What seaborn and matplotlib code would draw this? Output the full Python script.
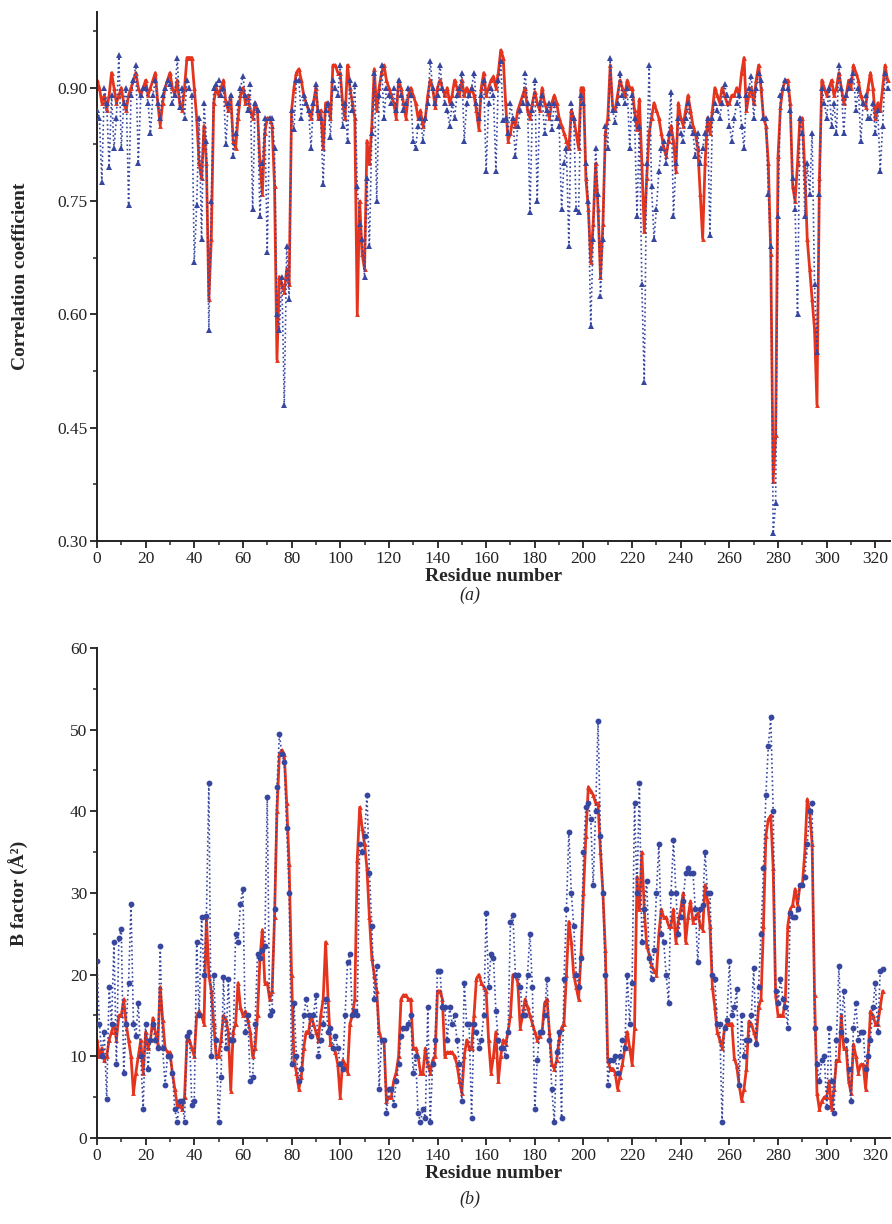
import numpy as np
import pandas as pd
import matplotlib
matplotlib.use("Agg")
import matplotlib.pyplot as plt
from matplotlib.ticker import MultipleLocator, FormatStrFormatter
import seaborn as sns

# (a) correlation coefficient per residue, residues 0..325
corr_red = [
    0.91, 0.90, 0.88, 0.89, 0.87, 0.89, 0.92, 0.90, 0.88, 0.89,
    0.90, 0.88, 0.87, 0.89, 0.90, 0.91, 0.92, 0.90, 0.89, 0.90,
    0.91, 0.89, 0.90, 0.91, 0.92, 0.88, 0.85, 0.88, 0.90, 0.91,
    0.92, 0.90, 0.89, 0.91, 0.88, 0.87, 0.90, 0.94, 0.94, 0.94,
    0.90, 0.86, 0.80, 0.78, 0.85, 0.80, 0.62, 0.70, 0.88, 0.90,
    0.89, 0.90, 0.91, 0.88, 0.87, 0.89, 0.83, 0.82, 0.86, 0.89,
    0.90, 0.88, 0.89, 0.87, 0.86, 0.88, 0.87, 0.80, 0.76, 0.84,
    0.86, 0.86, 0.85, 0.77, 0.54, 0.65, 0.64, 0.63, 0.66, 0.64,
    0.87, 0.90, 0.92, 0.925, 0.91, 0.89, 0.88, 0.87, 0.86, 0.88,
    0.90, 0.86, 0.87, 0.82, 0.88, 0.88, 0.86, 0.93, 0.93, 0.92,
    0.92, 0.88, 0.86, 0.93, 0.90, 0.88, 0.86, 0.60, 0.75, 0.68,
    0.66, 0.83, 0.80, 0.85, 0.925, 0.87, 0.90, 0.92, 0.93, 0.91,
    0.90, 0.89, 0.88, 0.86, 0.91, 0.90, 0.88, 0.86, 0.89, 0.90,
    0.89, 0.88, 0.86, 0.87, 0.85, 0.86, 0.89, 0.91, 0.90, 0.875,
    0.90, 0.91, 0.90, 0.89, 0.90, 0.88, 0.89, 0.91, 0.90, 0.89,
    0.91, 0.89, 0.90, 0.89, 0.90, 0.89, 0.87, 0.845, 0.90, 0.92,
    0.89, 0.90, 0.91, 0.915, 0.90, 0.92, 0.95, 0.94, 0.88, 0.83,
    0.84, 0.86, 0.85, 0.87, 0.88, 0.89, 0.90, 0.87, 0.86, 0.88,
    0.895, 0.88, 0.87, 0.90, 0.88, 0.87, 0.86, 0.88, 0.89, 0.88,
    0.86, 0.85, 0.84, 0.83, 0.82, 0.87, 0.86, 0.84, 0.82, 0.90,
    0.90, 0.78, 0.74, 0.67, 0.72, 0.80, 0.74, 0.65, 0.72, 0.84,
    0.86, 0.93, 0.875, 0.87, 0.89, 0.91, 0.90, 0.89, 0.91, 0.90,
    0.90, 0.87, 0.845, 0.885, 0.80, 0.71, 0.78, 0.84, 0.86, 0.88,
    0.87, 0.86, 0.84, 0.82, 0.81, 0.83, 0.85, 0.83, 0.79, 0.88,
    0.86, 0.85, 0.87, 0.89, 0.87, 0.85, 0.84, 0.82, 0.76, 0.70,
    0.80, 0.86, 0.84, 0.87, 0.90, 0.89, 0.88, 0.90, 0.89, 0.88,
    0.88, 0.89, 0.89, 0.90, 0.89, 0.92, 0.94, 0.87, 0.89, 0.90,
    0.88, 0.91, 0.93, 0.90, 0.86, 0.85, 0.80, 0.68, 0.38, 0.44,
    0.81, 0.875, 0.90, 0.91, 0.91, 0.88, 0.77, 0.75, 0.80, 0.86,
    0.86, 0.79, 0.70, 0.66, 0.62, 0.58, 0.48, 0.78, 0.91, 0.90,
    0.89, 0.90, 0.91, 0.89, 0.90, 0.92, 0.90, 0.88, 0.89, 0.91,
    0.90, 0.93, 0.92, 0.91, 0.89, 0.88, 0.875, 0.90, 0.92, 0.90,
    0.86, 0.88, 0.87, 0.90, 0.93, 0.91,
]
corr_blue = [
    0.87, 0.86, 0.775, 0.90, 0.88, 0.795, 0.89, 0.82, 0.86, 0.944,
    0.82, 0.88, 0.90, 0.745, 0.89, 0.91, 0.93, 0.80, 0.89, 0.90,
    0.90, 0.88, 0.84, 0.89, 0.91, 0.88, 0.86, 0.89, 0.90, 0.91,
    0.905, 0.88, 0.89, 0.94, 0.875, 0.90, 0.86, 0.91, 0.90, 0.89,
    0.67, 0.745, 0.86, 0.70, 0.88, 0.83, 0.58, 0.75, 0.90, 0.905,
    0.91, 0.89, 0.90, 0.825, 0.88, 0.89, 0.81, 0.84, 0.88, 0.90,
    0.915, 0.89, 0.87, 0.905, 0.74, 0.88, 0.87, 0.73, 0.80, 0.86,
    0.683, 0.86, 0.86, 0.82, 0.60, 0.58, 0.65, 0.48, 0.69, 0.62,
    0.87, 0.845, 0.91, 0.91, 0.86, 0.89, 0.88, 0.87, 0.82, 0.88,
    0.905, 0.87, 0.86, 0.773, 0.87, 0.88, 0.835, 0.91, 0.90, 0.89,
    0.93, 0.85, 0.88, 0.83, 0.91, 0.87, 0.905, 0.77, 0.72, 0.70,
    0.65, 0.78, 0.69, 0.84, 0.92, 0.75, 0.89, 0.93, 0.86, 0.90,
    0.89, 0.88, 0.90, 0.87, 0.91, 0.89, 0.87, 0.88, 0.90, 0.89,
    0.83, 0.82, 0.85, 0.86, 0.83, 0.86, 0.88, 0.935, 0.90, 0.88,
    0.89, 0.93, 0.90, 0.88, 0.87, 0.85, 0.88, 0.86, 0.89, 0.90,
    0.92, 0.83, 0.88, 0.89, 0.90, 0.92, 0.88, 0.86, 0.89, 0.91,
    0.79, 0.88, 0.90, 0.89, 0.79, 0.91, 0.935, 0.857, 0.86, 0.84,
    0.88, 0.86, 0.81, 0.85, 0.87, 0.88, 0.92, 0.88, 0.735, 0.87,
    0.91, 0.75, 0.88, 0.89, 0.84, 0.87, 0.88, 0.845, 0.88, 0.86,
    0.85, 0.74, 0.80, 0.82, 0.69, 0.88, 0.86, 0.74, 0.735, 0.89,
    0.88, 0.80, 0.75, 0.585, 0.70, 0.82, 0.76, 0.625, 0.70, 0.85,
    0.82, 0.94, 0.87, 0.855, 0.88, 0.92, 0.89, 0.88, 0.90, 0.82,
    0.89, 0.86, 0.73, 0.85, 0.64, 0.51, 0.80, 0.93, 0.77, 0.70,
    0.74, 0.79, 0.82, 0.83, 0.80, 0.84, 0.895, 0.73, 0.80, 0.86,
    0.84, 0.83, 0.86, 0.88, 0.85, 0.84, 0.81, 0.84, 0.80, 0.82,
    0.84, 0.86, 0.705, 0.86, 0.88, 0.87, 0.86, 0.88, 0.905, 0.89,
    0.85, 0.83, 0.86, 0.88, 0.89, 0.85, 0.82, 0.89, 0.90, 0.915,
    0.86, 0.90, 0.92, 0.91, 0.86, 0.86, 0.76, 0.69, 0.31, 0.35,
    0.73, 0.89, 0.90, 0.91, 0.90, 0.87, 0.78, 0.74, 0.60, 0.86,
    0.84, 0.73, 0.80, 0.76, 0.84, 0.64, 0.55, 0.76, 0.90, 0.88,
    0.86, 0.90, 0.85, 0.88, 0.84, 0.93, 0.90, 0.84, 0.89, 0.90,
    0.91, 0.92, 0.87, 0.90, 0.83, 0.88, 0.89, 0.86, 0.86, 0.88,
    0.84, 0.87, 0.79, 0.85, 0.92, 0.90,
]

# (b) B factor per residue, residues 0..323
bf_red = [
    12, 10, 11, 9.5, 10, 12, 13, 14, 12, 15,
    15, 17, 14, 12, 10, 5.5, 8, 10, 12, 8,
    13, 11, 12, 14.7, 13, 11.5, 18.5, 14.5, 11, 10.5,
    10.5, 8, 6, 4, 4, 3.5, 5, 12, 12, 11,
    10, 15, 15.5, 15, 14, 27, 20, 18, 14, 10,
    10, 12, 15, 14.5, 13, 5.8, 13, 14, 19, 16,
    15, 15.5, 14.5, 13, 10, 11, 15, 22, 25.5, 19,
    19, 17, 18, 27, 40, 47, 47.5, 47, 41, 33.5,
    20, 9.5, 8, 6, 7.5, 11, 13, 13, 15, 14,
    13, 12, 15, 17, 24, 17, 11.5, 11, 10.5, 9,
    5, 9.5, 9, 8, 14, 15, 17, 34, 40.5, 38,
    36, 33, 27, 22, 20, 18, 13, 12, 12, 4.5,
    5, 5, 7, 8, 10, 17, 17.5, 17.5, 17, 17,
    11, 11, 10, 8, 8, 11, 9, 8, 9.5, 10,
    18, 18, 17, 10, 10.5, 10.5, 10.5, 10, 9, 7,
    5.5, 10, 12, 11, 11, 15, 19.5, 20, 19, 18.5,
    18, 12, 8, 10, 13, 7, 10, 12, 11.5, 13,
    15, 20, 20, 19, 13.5, 15, 17, 16, 15, 14,
    13, 12, 12.5, 13, 16.5, 17, 13, 9, 8.5, 9.5,
    12, 13.5, 14, 20, 26.5, 24, 20, 18.5, 17, 22.5,
    30, 37, 43, 42.5, 42, 41, 41, 35, 30, 23,
    9.5, 8.5, 8.5, 8, 6, 7.5, 9, 11, 13, 11,
    9, 13.5, 32, 28, 35, 28, 23.5, 22.5, 21, 20.5,
    20, 25, 28, 27, 27, 26, 26, 28, 24, 26.5,
    28, 30, 24, 27, 29, 26.5, 27, 27.5, 26, 25.5,
    31, 29, 26, 18.5, 16, 13, 12, 11, 13.5, 14,
    14, 14, 9.8, 8.8, 6.5, 4.6, 6, 8.5, 14.3, 14,
    13, 12, 16, 17, 26, 37, 39, 39.5, 33, 17.5,
    15, 15, 15, 17, 26, 28, 28.5, 30.5, 28.5, 31,
    31, 35, 41.5, 40, 36, 17.5, 5.5, 3.5, 4.5, 5,
    5, 7, 3.5, 6, 9.5, 9.5, 15, 11, 11, 7,
    5.5, 11.5, 10, 8, 9, 9, 6, 10, 15.5, 15,
    14, 14, 16, 18,
]
bf_blue = [
    21.7, 14, 10, 13, 4.8, 18.5, 14, 24, 9, 24.5,
    25.6, 8, 14, 19, 28.6, 14, 12.5, 16.5, 10, 3.5,
    14, 8.5, 12, 14, 12, 11, 23.5, 11, 6.5, 10,
    10, 8, 3.5, 2, 4.5, 4.5, 2, 12.5, 13, 4,
    4.5, 24, 15, 27, 20, 27.2, 43.5, 10, 20, 12,
    2, 7.5, 19.7, 11, 19.5, 12, 12, 25, 24, 28.7,
    30.5, 13, 15, 7, 7.5, 14, 22.5, 22, 23, 23.5,
    41.8, 15, 15.5, 28, 43, 49.5, 47, 46, 38, 30,
    9, 16.5, 10, 7, 8.5, 15, 17, 15, 12.5, 15,
    17.5, 10, 12, 14, 17, 13, 13.5, 11, 12.5, 11,
    9, 8.5, 15, 21.5, 22.5, 15, 15.5, 15, 36, 35,
    37, 42, 32.5, 26, 17, 21, 6, 12, 12, 3,
    6, 6, 4, 7, 9, 12.5, 13.5, 13.5, 14, 15,
    8, 10, 3, 2, 3.5, 2.5, 16, 2, 9, 12,
    20.5, 20.5, 16, 16, 12, 16, 14, 15, 12, 9,
    4.5, 19, 14, 14, 2.5, 14, 13, 11, 12, 15,
    27.5, 18.5, 22.5, 22, 15.5, 12, 11, 11, 10, 13,
    26.5, 27.3, 20, 20, 18.5, 15, 15, 20, 25, 18.5,
    3.5, 9.5, 13, 13, 15, 19.5, 12, 6, 2, 10.5,
    13, 2.5, 19.5, 28, 37.5, 30, 26, 20, 18.5, 22,
    35, 40.5, 41, 39, 31, 40, 51, 37, 30, 20,
    6.5, 9.5, 9.5, 10, 8, 10, 12, 11, 20, 14,
    19, 41, 30, 43.5, 24, 28, 31.5, 22, 19.5, 23,
    30, 36, 25, 24, 20, 16.5, 30, 36.5, 30, 25,
    27, 29, 32.5, 33, 32.5, 32.5, 28, 21.5, 28, 28.5,
    35, 30, 30, 20, 19.5, 14, 14, 2, 13.5, 14.5,
    21.7, 15, 16, 18.2, 6.5, 15, 10, 12, 12, 15,
    20.8, 11.5, 18.5, 25, 33, 42, 48, 51.5, 40, 18,
    16.5, 19.5, 17, 16, 13.5, 27.5, 27, 27, 28, 31,
    31, 32, 36, 40, 41, 13.5, 9, 7, 9.5, 10,
    3.8, 13.5, 7, 3, 12, 21, 13, 18, 12, 8.5,
    4.5, 13.5, 16.5, 12, 13, 13, 8.5, 10, 12, 16,
    19, 13, 20.5, 20.7,
]

corr_df = pd.DataFrame({"residue": np.arange(len(corr_red)), "red": corr_red, "blue": corr_blue})
bf_df = pd.DataFrame({"residue": np.arange(len(bf_red)), "red": bf_red, "blue": bf_blue})

sns.set_style("ticks")
plt.rcParams["font.family"] = ["Liberation Serif", "DejaVu Serif"]

RED = "#e5341d"
BLUE = "#3747a0"

fig = plt.figure(figsize=(8.92, 12.24), dpi=100)
ax1 = fig.add_axes([0.1087, 0.558, 0.889, 0.432])
ax2 = fig.add_axes([0.1087, 0.0703, 0.889, 0.4003])


def draw(ax, df, marker_b):
    sns.lineplot(data=df, x="residue", y="red", ax=ax, color=RED, lw=2.0,
                 marker="^", markersize=3.5, markeredgewidth=0, sort=False,
                 estimator=None, zorder=2)
    sns.lineplot(data=df, x="residue", y="blue", ax=ax, color=BLUE, lw=1.2,
                 linestyle=":", marker=marker_b, markersize=4.2,
                 markeredgewidth=0, sort=False, estimator=None, zorder=3)
    ax.set_xlim(0, 326)
    ax.xaxis.set_major_locator(MultipleLocator(20))
    ax.xaxis.set_minor_locator(MultipleLocator(10))
    ax.tick_params(which="major", direction="out", length=5, width=1.3,
                   labelsize=12.5, pad=2, colors="#222222")
    ax.tick_params(which="minor", direction="out", length=3, width=1.1)
    for s in ["left", "bottom"]:
        ax.spines[s].set_linewidth(1.4)
        ax.spines[s].set_color("#222222")
    sns.despine(ax=ax)
    ax.set_xlabel("Residue number", fontsize=14, fontweight="bold", labelpad=1)


draw(ax1, corr_df, "^")
ax1.set_ylim(0.30, 1.0)
ax1.yaxis.set_major_locator(MultipleLocator(0.15))
ax1.yaxis.set_minor_locator(MultipleLocator(0.075))
ax1.yaxis.set_major_formatter(FormatStrFormatter("%.2f"))
ax1.set_ylabel("Correlation coefficient", fontsize=14, fontweight="bold")
ax1.yaxis.set_label_coords(-0.086, 0.5)

draw(ax2, bf_df, "o")
ax2.set_ylim(0, 60)
ax2.yaxis.set_major_locator(MultipleLocator(10))
ax2.yaxis.set_minor_locator(MultipleLocator(5))
ax2.set_ylabel("B factor (Å²)", fontsize=14, fontweight="bold")
ax2.yaxis.set_label_coords(-0.086, 0.5)

fig.text(0.527, 0.5135, "(a)", fontsize=13, style="italic", ha="center", va="center")
fig.text(0.527, 0.0205, "(b)", fontsize=13, style="italic", ha="center", va="center")

fig.savefig("out.png", dpi=100)
